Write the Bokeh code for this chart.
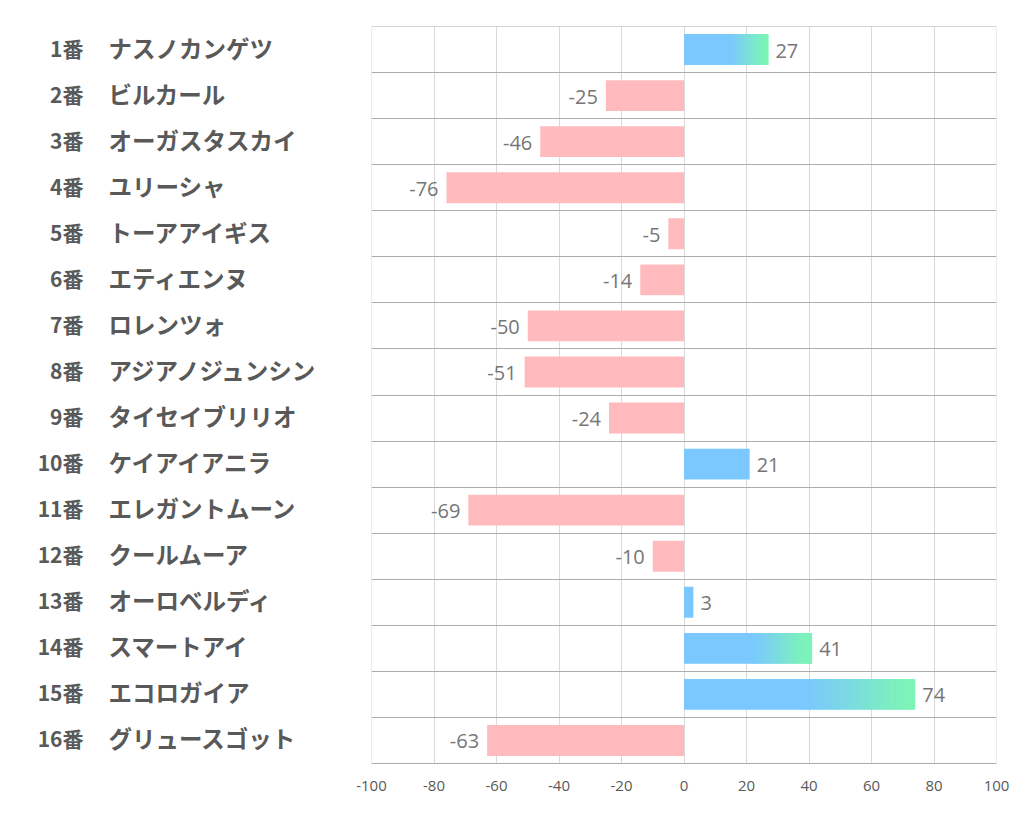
from bokeh.plotting import figure
from bokeh.models import Range1d, FixedTicker, ColumnDataSource, Span
from bokeh.layouts import row
from bokeh.core.properties import value
from bokeh.embed import file_html
from bokeh.resources import INLINE

numbers = [f"{i}番" for i in range(1, 17)]
names = ["ナスノカンゲツ", "ビルカール", "オーガスタスカイ", "ユリーシャ", "トーアアイギス",
         "エティエンヌ", "ロレンツォ", "アジアノジュンシン", "タイセイブリリオ", "ケイアイアニラ",
         "エレガントムーン", "クールムーア", "オーロベルディ", "スマートアイ", "エコロガイア",
         "グリュースゴット"]
values = [27, -25, -46, -76, -5, -14, -50, -51, -24, 21, -69, -10, 3, 41, 74, -63]
gradient_rows = [1, 14, 15]
x_ticks = [-100, -80, -60, -40, -20, 0, 20, 40, 60, 80, 100]

BLUE = (122, 200, 255)
GREEN = (125, 245, 182)
PINK = "#ffbabe"
rows = list(range(1, len(values) + 1))

TOP, BOTTOM, HEIGHT = 26, 55, 818
yr = Range1d(16.5, 0.5)

# ---- left label panel ----
lp = figure(width=341, height=HEIGHT, output_backend="svg", toolbar_location=None,
            x_range=Range1d(0, 341), y_range=yr,
            min_border_left=0, min_border_right=0, min_border_top=TOP, min_border_bottom=BOTTOM)
lp.outline_line_color = None
lp.axis.visible = False
lp.grid.visible = False
lab_src = ColumnDataSource(dict(y=rows, num=numbers, name=names))
lp.text(x=83, y="y", text="num", source=lab_src, text_align="right", text_baseline="middle",
        y_offset=-2, text_font=value("Noto Sans CJK JP"), text_font_style="bold",
        text_font_size="21px", text_color="#595959")
lp.text(x=108, y="y", text="name", source=lab_src, text_align="left", text_baseline="middle",
        y_offset=-2, text_font=value("Noto Sans CJK JP"), text_font_style="bold",
        text_font_size="23.5px", text_color="#595959")

# ---- main chart ----
p = figure(width=675, height=HEIGHT, output_backend="svg", toolbar_location=None,
           x_range=Range1d(-100, 100), y_range=yr,
           min_border_left=30, min_border_right=20, min_border_top=TOP, min_border_bottom=BOTTOM)
p.outline_line_color = None
p.background_fill_color = "white"
p.border_fill_color = "white"

p.xaxis.ticker = FixedTicker(ticks=x_ticks)
p.xaxis.major_label_overrides = {t: str(t) for t in x_ticks}
p.xgrid.ticker = FixedTicker(ticks=x_ticks)
p.xgrid.grid_line_color = "#d9d9d9"
p.ygrid.ticker = FixedTicker(ticks=[r + 0.5 for r in range(0, 17)])
p.ygrid.grid_line_color = "#ababab"
p.yaxis.visible = False

for xv in (x_ticks[0], x_ticks[-1]):
    p.add_layout(Span(location=xv, dimension="height", line_color="#d9d9d9", line_width=1))
p.add_layout(Span(location=0.5, dimension="width", line_color="#ababab", line_width=1))

p.xaxis.axis_line_color = "#ababab"
p.xaxis.major_tick_line_color = None
p.xaxis.minor_tick_line_color = None
p.xaxis.major_label_text_font = "Open Sans"
p.xaxis.major_label_text_font_size = "15px"
p.xaxis.major_label_text_color = "#595959"
p.xaxis.major_label_standoff = 11

H = 0.67
neg_y = [r for r, v in zip(rows, values) if v < 0]
neg_v = [v for v in values if v < 0]
p.hbar(y=neg_y, left=0, right=neg_v, height=H, fill_color=PINK, line_color=None)

pos_plain_y = [r for r, v in zip(rows, values) if v >= 0 and r not in gradient_rows]
pos_plain_v = [v for r, v in zip(rows, values) if v >= 0 and r not in gradient_rows]
p.hbar(y=pos_plain_y, left=0, right=pos_plain_v, height=H,
       fill_color="#%02x%02x%02x" % BLUE, line_color=None)

N = 50
start_frac = 0.5
for r in gradient_rows:
    v = values[r - 1]
    p.hbar(y=[r], left=0, right=[v * start_frac + 0.3], height=H,
           fill_color="#%02x%02x%02x" % BLUE, line_color=None)
    lefts, rights, cols, ys = [], [], [], []
    for k in range(N):
        f0 = start_frac + (1 - start_frac) * k / N
        f1 = start_frac + (1 - start_frac) * (k + 1) / N
        t = (k + 0.5) / N
        t = t * t * (3 - 2 * t) * 0.5 + t * 0.5
        c = tuple(int(round(BLUE[i] + (GREEN[i] - BLUE[i]) * t)) for i in range(3))
        lefts.append(v * f0)
        rights.append(min(v, v * f1 + 0.3))
        cols.append("#%02x%02x%02x" % c)
        ys.append(r)
    p.hbar(y=ys, left=lefts, right=rights, height=H, fill_color=cols, line_color=None)

pos_src = ColumnDataSource(dict(x=[v for v in values if v >= 0],
                                y=[r for r, v in zip(rows, values) if v >= 0],
                                t=[str(v) for v in values if v >= 0]))
neg_src = ColumnDataSource(dict(x=neg_v, y=neg_y, t=[str(v) for v in neg_v]))
p.text(x="x", y="y", text="t", source=pos_src, x_offset=7, y_offset=1,
       text_align="left", text_baseline="middle", text_font=value("Open Sans"),
       text_font_size="20px", text_color="#767676")
p.text(x="x", y="y", text="t", source=neg_src, x_offset=-8, y_offset=1,
       text_align="right", text_baseline="middle", text_font=value("Open Sans"),
       text_font_size="20px", text_color="#767676")

layout = row(lp, p)
open("out.html", "w").write(file_html(layout, INLINE))
